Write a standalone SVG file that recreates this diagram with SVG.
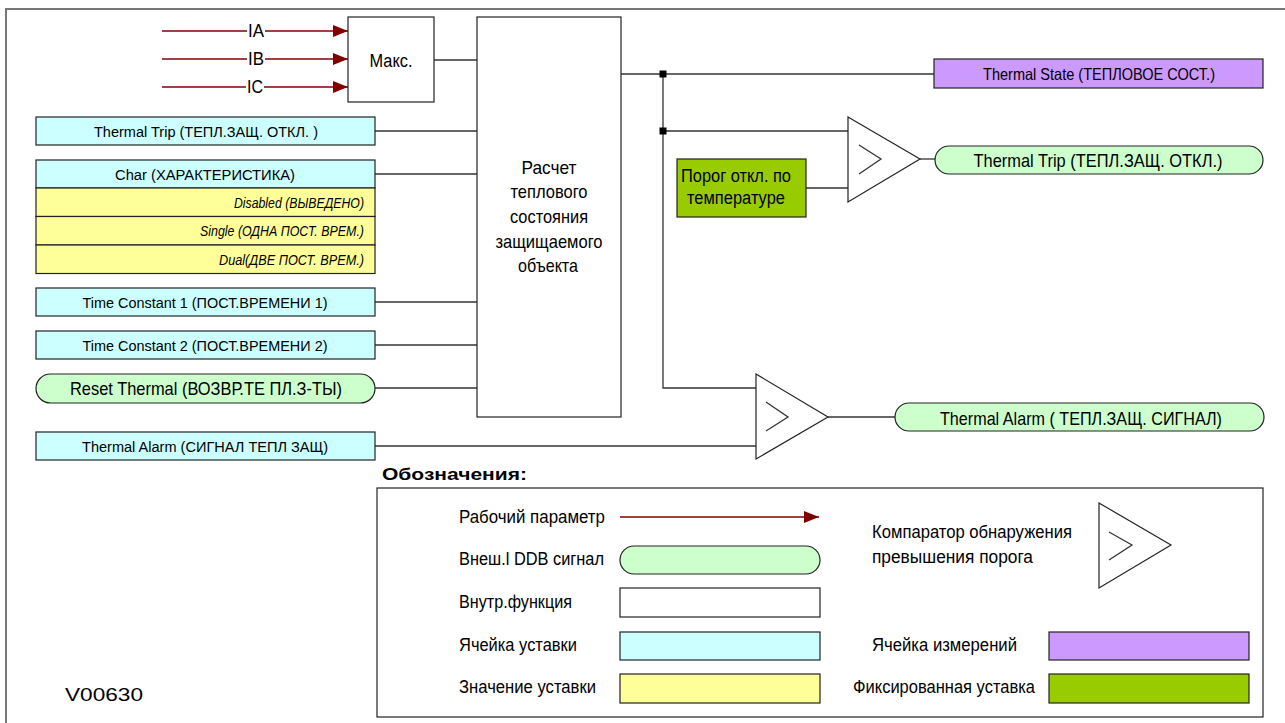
<svg xmlns="http://www.w3.org/2000/svg" width="1285" height="723" viewBox="0 0 1285 723">
<style>
text{font-family:"Liberation Sans",Arial,sans-serif;fill:#000}
.box{stroke:#222;stroke-width:1.2}
.cyan{fill:#CCFFFF}.yel{fill:#FFFF99}.pill{fill:#CCFFCC}.pur{fill:#CC99FF}.grn{fill:#99CC00}.wht{fill:#fff}
.ln{fill:none;stroke:#333;stroke-width:1.3}
.ar{fill:none;stroke:#800000;stroke-width:1.5}
.t14{font-size:15.5px;text-anchor:middle}
.it{font-size:14px;font-style:italic;text-anchor:end}
.lg{font-size:17.5px}
.cmp{fill:#fff;stroke:#222;stroke-width:1.2}
</style>
<defs>
<marker id="arr" markerUnits="userSpaceOnUse" viewBox="0 0 15 12" refX="15" refY="6" markerWidth="15" markerHeight="12" orient="auto">
<path d="M0,0 L15,6 L0,12 z" fill="#800000"/>
</marker>
</defs>
<rect x="0" y="0" width="1285" height="723" fill="#fff"/>
<rect x="6" y="9" width="1290" height="730" fill="none" stroke="#777" stroke-width="2"/>

<g id="connectors">
<line class="ar" x1="162" y1="31" x2="247" y2="31"/>
<line class="ar" x1="265" y1="31" x2="348" y2="31" marker-end="url(#arr)"/>
<line class="ar" x1="162" y1="59" x2="247" y2="59"/>
<line class="ar" x1="265" y1="59" x2="348" y2="59" marker-end="url(#arr)"/>
<line class="ar" x1="162" y1="87" x2="246" y2="87"/>
<line class="ar" x1="264" y1="87" x2="348" y2="87" marker-end="url(#arr)"/>
<path class="ln" d="M434,60 H477"/>
<path class="ln" d="M375,131 H477"/>
<path class="ln" d="M375,174 H477"/>
<path class="ln" d="M375,302 H477"/>
<path class="ln" d="M375,345 H477"/>
<path class="ln" d="M375,388 H477"/>
<path class="ln" d="M621,74 H934"/>
<path class="ln" d="M663,74 V388 H756"/>
<path class="ln" d="M663,131 H848"/>
<path class="ln" d="M806,188 H848"/>
<path class="ln" d="M920,159 H935"/>
<path class="ln" d="M375,446 H756"/>
<path class="ln" d="M828,417 H895"/>
<rect x="659.5" y="70.5" width="7" height="7" fill="#000"/>
<rect x="659.5" y="127.5" width="7" height="7" fill="#000"/>
</g>

<g id="labels-inputs">
<text x="256" y="37" font-size="17.5" text-anchor="middle" textLength="16" lengthAdjust="spacingAndGlyphs">IA</text>
<text x="256" y="65" font-size="17.5" text-anchor="middle" textLength="16" lengthAdjust="spacingAndGlyphs">IB</text>
<text x="255" y="93" font-size="17.5" text-anchor="middle" textLength="16" lengthAdjust="spacingAndGlyphs">IC</text>
</g>

<g id="max">
<rect class="box wht" x="348" y="17" width="86" height="85"/>
<text x="391" y="67" font-size="18" text-anchor="middle" textLength="43" lengthAdjust="spacingAndGlyphs">Макс.</text>
</g>

<g id="calc">
<rect class="box wht" x="477" y="17" width="144" height="400"/>
<text x="549" y="174" font-size="18.5" text-anchor="middle" textLength="55" lengthAdjust="spacingAndGlyphs">Расчет</text>
<text x="549" y="198" font-size="18.5" text-anchor="middle" textLength="77" lengthAdjust="spacingAndGlyphs">теплового</text>
<text x="549" y="223" font-size="18.5" text-anchor="middle" textLength="78" lengthAdjust="spacingAndGlyphs">состояния</text>
<text x="549" y="248" font-size="18.5" text-anchor="middle" textLength="107" lengthAdjust="spacingAndGlyphs">защищаемого</text>
<text x="548" y="272" font-size="18.5" text-anchor="middle" textLength="60" lengthAdjust="spacingAndGlyphs">объекта</text>
</g>

<g id="set-thermal-trip">
<rect class="box cyan" x="36" y="117" width="339" height="28"/>
<text class="t14" x="206" y="137" textLength="224" lengthAdjust="spacingAndGlyphs">Thermal Trip (ТЕПЛ.ЗАЩ. ОТКЛ. )</text>
</g>

<g id="set-char">
<rect class="box cyan" x="36" y="160" width="339" height="28"/>
<text class="t14" x="205" y="180" textLength="180" lengthAdjust="spacingAndGlyphs">Char (ХАРАКТЕРИСТИКА)</text>
<rect class="box yel" x="36" y="188" width="339" height="28.5"/>
<text class="it" x="364" y="208" textLength="130" lengthAdjust="spacingAndGlyphs">Disabled (ВЫВЕДЕНО)</text>
<rect class="box yel" x="36" y="216.5" width="339" height="28.5"/>
<text class="it" x="364" y="236" textLength="164" lengthAdjust="spacingAndGlyphs">Single (ОДНА ПОСТ. ВРЕМ.)</text>
<rect class="box yel" x="36" y="245" width="339" height="28.5"/>
<text class="it" x="364" y="265" textLength="145" lengthAdjust="spacingAndGlyphs">Dual(ДВЕ ПОСТ. ВРЕМ.)</text>
</g>

<g id="set-tc1">
<rect class="box cyan" x="36" y="288" width="339" height="28"/>
<text class="t14" x="205" y="308" textLength="245" lengthAdjust="spacingAndGlyphs">Time Constant 1 (ПОСТ.ВРЕМЕНИ 1)</text>
</g>

<g id="set-tc2">
<rect class="box cyan" x="36" y="331" width="339" height="28"/>
<text class="t14" x="205" y="351" textLength="245" lengthAdjust="spacingAndGlyphs">Time Constant 2 (ПОСТ.ВРЕМЕНИ 2)</text>
</g>

<g id="ddb-reset">
<rect class="box pill" x="36" y="374" width="339" height="29" rx="14.5"/>
<text x="206" y="395" font-size="19" text-anchor="middle" textLength="272" lengthAdjust="spacingAndGlyphs">Reset Thermal (ВОЗВР.ТЕ ПЛ.З-ТЫ)</text>
</g>

<g id="set-thermal-alarm">
<rect class="box cyan" x="36" y="432" width="339" height="28"/>
<text class="t14" x="205" y="452" textLength="246" lengthAdjust="spacingAndGlyphs">Thermal Alarm (СИГНАЛ ТЕПЛ ЗАЩ)</text>
</g>

<g id="meas-thermal-state">
<rect class="box pur" x="934" y="59" width="329" height="29"/>
<text x="1099" y="80" font-size="16.5" text-anchor="middle" textLength="232" lengthAdjust="spacingAndGlyphs">Thermal State (ТЕПЛОВОЕ СОСТ.)</text>
</g>

<g id="threshold">
<rect class="box grn" x="677" y="159" width="129" height="58"/>
<text x="736" y="182" font-size="18" text-anchor="middle" textLength="110" lengthAdjust="spacingAndGlyphs">Порог откл. по</text>
<text x="736" y="204" font-size="18" text-anchor="middle" textLength="98" lengthAdjust="spacingAndGlyphs">температуре</text>
</g>

<g id="comp-trip">
<path class="cmp" d="M848,117 L920,159 L848,202 z"/>
<path class="ln" d="M859,145 L881,159 L859,174"/>
</g>

<g id="ddb-thermal-trip">
<rect class="box pill" x="935" y="146" width="328" height="28" rx="14"/>
<text x="1098" y="167" font-size="19" text-anchor="middle" textLength="249" lengthAdjust="spacingAndGlyphs">Thermal Trip (ТЕПЛ.ЗАЩ. ОТКЛ.)</text>
</g>

<g id="comp-alarm">
<path class="cmp" d="M756,374 L828,417 L756,459 z"/>
<path class="ln" d="M766,402 L788,417 L766,431"/>
</g>

<g id="ddb-thermal-alarm">
<rect class="box pill" x="895" y="403" width="369" height="28" rx="14"/>
<text x="1081" y="425" font-size="18.5" text-anchor="middle" textLength="282" lengthAdjust="spacingAndGlyphs">Thermal Alarm ( ТЕПЛ.ЗАЩ. СИГНАЛ)</text>
</g>

<g id="legend">
<text x="382" y="480" font-size="17" font-weight="bold" textLength="145" lengthAdjust="spacingAndGlyphs">Обозначения:</text>
<rect x="377" y="488" width="886" height="229" fill="#fff" stroke="#222" stroke-width="1.2"/>
<text class="lg" x="459" y="523" textLength="146" lengthAdjust="spacingAndGlyphs">Рабочий параметр</text>
<line class="ar" x1="620" y1="517" x2="819" y2="517" marker-end="url(#arr)"/>
<text class="lg" x="459" y="565" textLength="145" lengthAdjust="spacingAndGlyphs">Внеш.l DDB сигнал</text>
<rect class="box pill" x="620" y="546" width="200" height="28" rx="14"/>
<text class="lg" x="459" y="608" textLength="113" lengthAdjust="spacingAndGlyphs">Внутр.функция</text>
<rect class="box wht" x="620" y="588" width="200" height="29"/>
<text class="lg" x="459" y="651" textLength="118" lengthAdjust="spacingAndGlyphs">Ячейка уставки</text>
<rect class="box cyan" x="620" y="632" width="200" height="28"/>
<text class="lg" x="459" y="693" textLength="137" lengthAdjust="spacingAndGlyphs">Значение уставки</text>
<rect class="box yel" x="620" y="674" width="200" height="29"/>
<text class="lg" x="872" y="538" textLength="200" lengthAdjust="spacingAndGlyphs">Компаратор обнаружения</text>
<text class="lg" x="872" y="563" textLength="161" lengthAdjust="spacingAndGlyphs">превышения порога</text>
<path class="cmp" d="M1099,503 L1171,545 L1099,588 z"/>
<path class="ln" d="M1109,532 L1132,545 L1109,560"/>
<text class="lg" x="872" y="651" textLength="145" lengthAdjust="spacingAndGlyphs">Ячейка измерений</text>
<rect class="box pur" x="1049" y="632" width="200" height="28"/>
<text class="lg" x="853" y="693" textLength="182" lengthAdjust="spacingAndGlyphs">Фиксированная уставка</text>
<rect class="box grn" x="1049" y="674" width="200" height="29"/>
</g>

<g id="ref">
<text x="65" y="701" font-size="17.5" textLength="78" lengthAdjust="spacingAndGlyphs">V00630</text>
</g>
</svg>
